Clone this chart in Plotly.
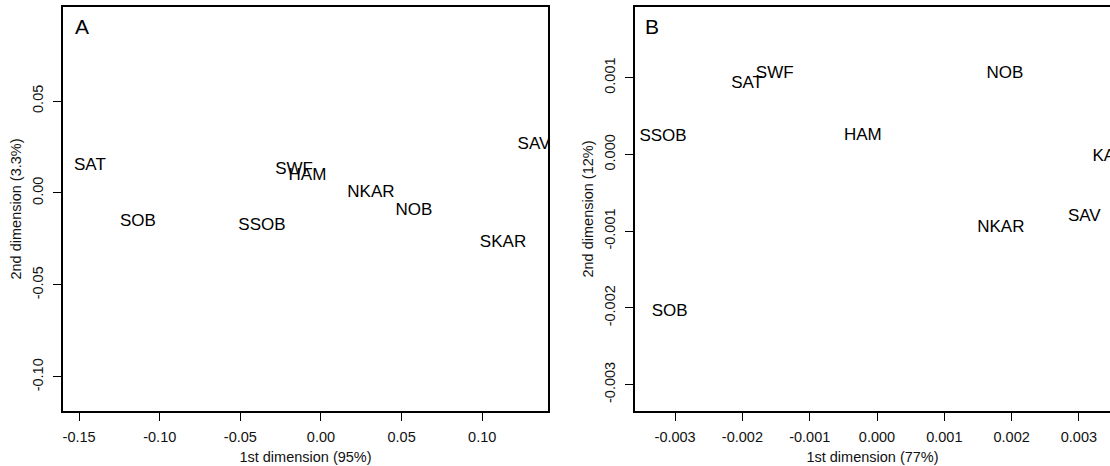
import plotly.graph_objects as go

# Panel A (first two dimensions)
labels_a = ["SAT", "SOB", "SSOB", "SWF", "HAM", "NKAR", "NOB", "SKAR", "SAV"]
dim1_a = [-0.1433, -0.1135, -0.0366, -0.0167, -0.0084, 0.0310, 0.0577, 0.1129, 0.1321]
dim2_a = [0.0147, -0.0158, -0.0179, 0.0125, 0.0092, 0.0000, -0.0098, -0.0272, 0.0261]

# Panel B
labels_b = ["SSOB", "SAT", "SWF", "HAM", "NOB", "KAR", "SAV", "NKAR", "SOB"]
dim1_b = [-0.00318, -0.00193, -0.00152, -0.00021, 0.00190, 0.00346, 0.00308, 0.00184, -0.00308]
dim2_b = [0.000228, 0.00092, 0.00105, 0.00024, 0.00105, -0.00003, -0.000815, -0.000958, -0.00205]

xticks_a = [-0.15, -0.10, -0.05, 0.00, 0.05, 0.10]
yticks_a = [-0.10, -0.05, 0.00, 0.05]
xticks_b = [-0.003, -0.002, -0.001, 0.000, 0.001, 0.002, 0.003]
yticks_b = [-0.003, -0.002, -0.001, 0.000, 0.001]

FONT = "Liberation Sans, Arial, sans-serif"
W, H = 1110, 466


def px(v):
    return min(max(v / W, 0.0), 1.0)


def py(v):
    return min(max(1 - v / H, 0.0), 1.0)


fig = go.Figure()
fig.add_trace(go.Scatter(x=dim1_a, y=dim2_a, text=labels_a, mode="text",
                         textposition="middle center",
                         textfont=dict(family=FONT, size=17, color="black"),
                         cliponaxis=True, xaxis="x", yaxis="y", showlegend=False))
fig.add_trace(go.Scatter(x=dim1_b, y=dim2_b, text=labels_b, mode="text",
                         textposition="middle center",
                         textfont=dict(family=FONT, size=17, color="black"),
                         cliponaxis=True, xaxis="x2", yaxis="y2", showlegend=False))

tickfont = dict(family=FONT, size=14.5, color="#111")
titlefont = dict(family=FONT, size=14.5, color="#111")
common = dict(showgrid=False, zeroline=False, showline=True, linecolor="black",
              linewidth=1.5, ticks="outside", ticklen=8, tickwidth=1.2,
              tickcolor="black", tickfont=tickfont, ticklabelstandoff=4)

fig.update_layout(
    width=W, height=H, margin=dict(l=0, r=0, t=0, b=0),
    plot_bgcolor="white", paper_bgcolor="white",
    xaxis=dict(domain=[px(63), px(548)], range=[-0.160, 0.1408],
               tickvals=xticks_a, ticktext=[f"{v:.2f}" for v in xticks_a],
               mirror=True, anchor="y",
               title=dict(text="1st dimension (95%)", font=titlefont, standoff=8),
               **common),
    yaxis=dict(domain=[py(411), py(7)], range=[-0.1185, 0.1011],
               tickvals=yticks_a, ticktext=[f"{v:.2f}" for v in yticks_a],
               mirror=True, tickangle=-90, anchor="x",
               title=dict(text="2nd dimension (3.3%)", font=titlefont, standoff=5),
               **common),
    xaxis2=dict(domain=[px(635), 1.0], range=[-0.003596, 0.003462],
                tickvals=xticks_b, ticktext=[f"{v:.3f}" for v in xticks_b],
                mirror=True, anchor="y2",
                title=dict(text="1st dimension (77%)", font=titlefont, standoff=8),
                **common),
    yaxis2=dict(domain=[py(411), py(7)], range=[-0.003344, 0.001923],
                tickvals=yticks_b, ticktext=[f"{v:.3f}" for v in yticks_b],
                mirror=False, tickangle=-90, anchor="x2",
                title=dict(text="2nd dimension (12%)", font=titlefont, standoff=5),
                **common),
    annotations=[
        dict(text="A", x=px(82), y=py(26), xref="paper", yref="paper",
             xanchor="center", yanchor="middle",
             showarrow=False, font=dict(family=FONT, size=21, color="black")),
        dict(text="B", x=px(652), y=py(26), xref="paper", yref="paper",
             xanchor="center", yanchor="middle",
             showarrow=False, font=dict(family=FONT, size=21, color="black")),
    ],
)

fig.write_html(
    "out.html",
    config={"displayModeBar": False},
    post_script="document.body.style.margin='0';document.body.style.overflow='hidden';",
)
